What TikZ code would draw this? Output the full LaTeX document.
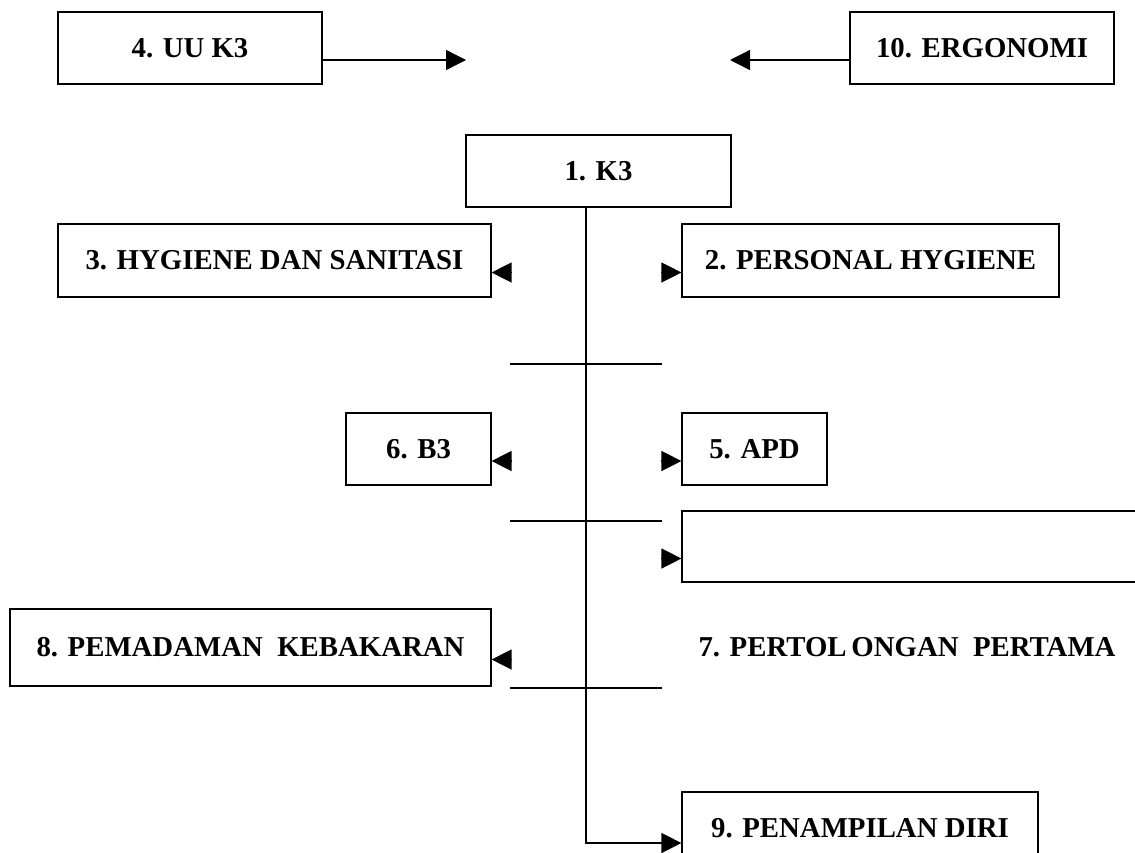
\documentclass[tikz,border=0pt]{standalone}
\usepackage{fontspec}
\setmainfont{Liberation Serif}
\usetikzlibrary{arrows.meta,calc}
\begin{document}
\begin{tikzpicture}[x=0.5pt,y=-0.5pt,
  box/.style={draw,line width=0.6pt,inner sep=0pt,minimum height=36pt,font=\fontsize{14.4}{17}\selectfont\bfseries},
  link/.style={line width=0.7pt},
  tip/.style={-{Triangle[length=10pt,width=10pt]}}]
\clip (0,0) rectangle (1135,852);

\node[box,minimum width=132pt] (uu) at (190,48) {4. UU K3};
\node[box,minimum width=132pt] (ergo) at (982,48) {10. ERGONOMI};
\node[box,minimum width=132.5pt] (k3) at (598.5,171) {1. K3};
\node[box,minimum width=216.5pt,minimum height=36.5pt] (hs) at (274.5,260.5) {3. HYGIENE DAN SANITASI};
\node[box,minimum width=188.5pt,minimum height=36.5pt] (ph) at (870.5,260.5) {2. PERSONAL HYGIENE};
\node[box,minimum width=72.5pt] (b3) at (418.5,449) {6. B3};
\node[box,minimum width=72.5pt] (apd) at (754.5,449) {5. APD};
\node[box,minimum width=234pt,minimum height=35.5pt] (pp) at (916,546.5) {};
\node[box,minimum width=240.5pt,minimum height=38.5pt] (pk) at (250.5,647.5) {8. PEMADAMAN\enspace KEBAKARAN};
\node[box,minimum width=178pt] (pd) at (860,828) {9. PENAMPILAN DIRI};
\node[box,draw=none] (ppl) at (907,647) {7. PERTOL\,ONGAN\enspace PERTAMA};

\coordinate (uuend) at (466,60);
\coordinate (ergoend) at (730,60);
\coordinate (bend) at (586,843);
\draw[link,tip] (uu.east |- uuend) -- (uuend);
\draw[link,tip] (ergo.west |- ergoend) -- (ergoend);
\draw[link,tip] (k3.south -| bend) -- (bend) -- (pd.west |- bend);

\foreach \y in {364,521,688}
  \draw[link] (510,\y) -- (662,\y);

\foreach \n in {hs,b3,pk}
  \draw[link,tip] ($(\n.east)+(20,12)$) -- ($(\n.east)+(0,12)$);
\foreach \n in {ph,apd,pp}
  \draw[link,tip] ($(\n.west)+(-20,12)$) -- ($(\n.west)+(0,12)$);
\end{tikzpicture}
\end{document}
